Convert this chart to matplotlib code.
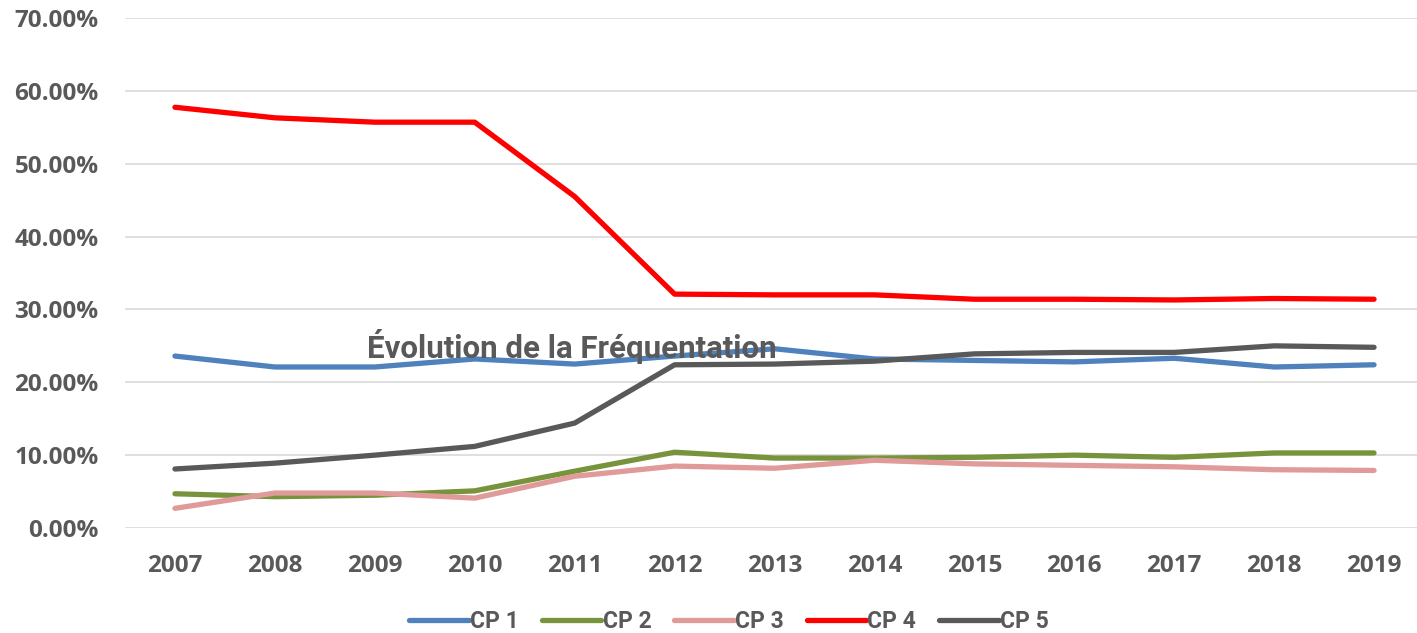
import matplotlib
matplotlib.use("Agg")
import matplotlib.pyplot as plt
from matplotlib.ticker import FuncFormatter

years = [2007, 2008, 2009, 2010, 2011, 2012, 2013, 2014, 2015, 2016, 2017, 2018, 2019]
cp1 = [23.6, 22.1, 22.1, 23.2, 22.5, 23.6, 24.6, 23.2, 23.0, 22.8, 23.3, 22.1, 22.4]
cp2 = [4.7, 4.3, 4.5, 5.1, 7.8, 10.4, 9.6, 9.6, 9.7, 10.0, 9.7, 10.3, 10.3]
cp3 = [2.7, 4.8, 4.8, 4.1, 7.1, 8.5, 8.2, 9.3, 8.8, 8.6, 8.4, 8.0, 7.9]
cp4 = [57.75, 56.3, 55.7, 55.7, 45.5, 32.1, 32.0, 32.0, 31.4, 31.4, 31.3, 31.5, 31.4]
cp5 = [8.1, 8.9, 10.0, 11.2, 14.4, 22.4, 22.5, 22.9, 23.9, 24.1, 24.1, 25.0, 24.8]
series_names = ["CP 1", "CP 2", "CP 3", "CP 4", "CP 5"]
title = "Évolution de la Fréquentation"

colors = ["#4f81bd", "#77933c", "#e09a9a", "#ff0000", "#595959"]
txt = "#595959"

fig = plt.figure(figsize=(14.17, 6.33), dpi=100)
ax = fig.add_axes([125/1417, 1-528/633, 1299/1417, 510/633])

x = list(range(len(years)))
for vals, name, c in zip([cp1, cp2, cp3, cp4, cp5], series_names, colors):
    ax.plot(x, [v/100 for v in vals], color=c, lw=3.8, label=name,
            solid_capstyle="round", solid_joinstyle="round")

ax.set_xlim(-0.5, len(years)-0.5)
ax.set_ylim(0, 0.70)
ax.set_yticks([i/10 for i in range(8)])
ax.yaxis.set_major_formatter(FuncFormatter(lambda v, p: f"{v*100:.2f}%"))
ax.set_xticks(x)
ax.set_xticklabels([str(y) for y in years])
ax.grid(axis="y", color="#d9d9d9", lw=1.2)
ax.set_axisbelow(True)
for s in ax.spines.values():
    s.set_visible(False)
ax.tick_params(axis="both", length=0, colors=txt)
for lab in ax.get_yticklabels() + ax.get_xticklabels():
    lab.set_fontfamily(["Open Sans", "DejaVu Sans"])
    lab.set_fontweight("bold")
    lab.set_fontsize(17.5)
    lab.set_color(txt)
ax.tick_params(axis="y", pad=19)
ax.tick_params(axis="x", pad=19)

fig.text(572/1417, 1-346/633, title, ha="center", va="center",
         fontsize=22.5, fontweight="bold", color=txt,
         family=["Roboto", "DejaVu Sans"])

leg = fig.legend(loc="center", bbox_to_anchor=(729/1417, 1-622/633), ncol=5,
                 frameon=False, handlelength=2.6, handletextpad=0.05,
                 columnspacing=1.0,
                 prop={"family": ["Roboto", "DejaVu Sans"],
                       "weight": "bold", "size": 16.5})
for t in leg.get_texts():
    t.set_color(txt)

fig.savefig("out.png", dpi=100)
